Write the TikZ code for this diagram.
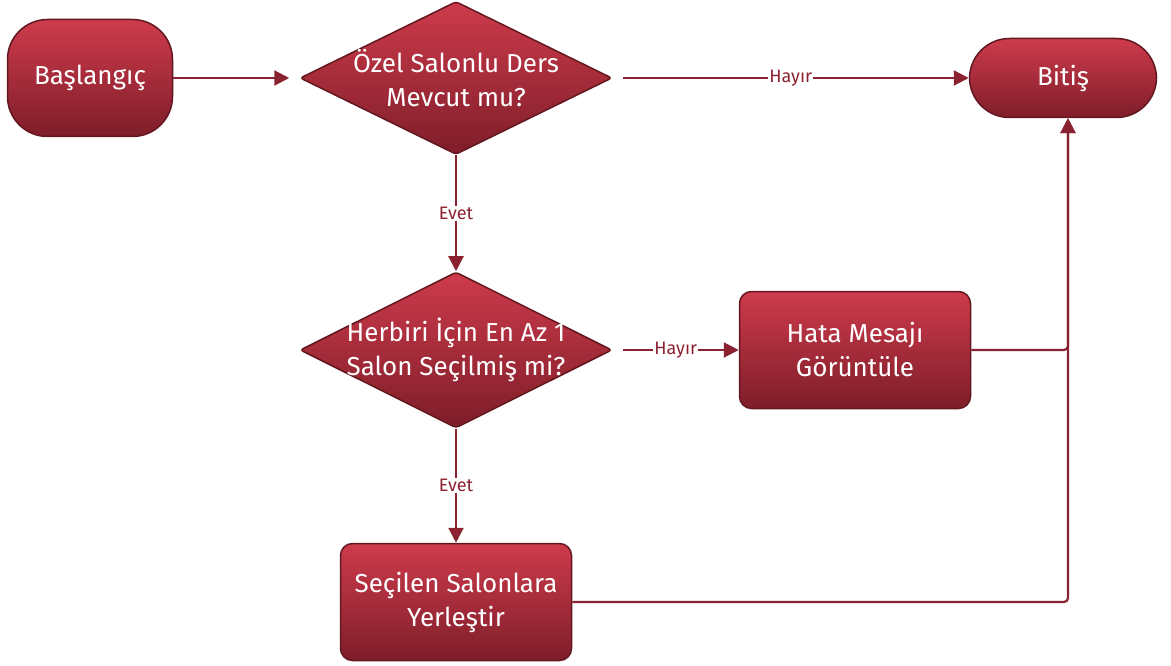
\documentclass[tikz,border=0pt]{standalone}
\usepackage{fontspec}
\setmainfont{Fira Sans}
\usetikzlibrary{arrows.meta,positioning,shapes.geometric,calc}
\definecolor{boxtop}{HTML}{CE3B4C}
\definecolor{boxbot}{HTML}{7E1D29}
\definecolor{boxline}{HTML}{631720}
\definecolor{flowline}{HTML}{8A2231}
\tikzset{
	box/.style={draw=boxline, line width=1.5pt, top color=boxtop, bottom color=boxbot,
		text=white, align=center, font=\fontsize{26}{34}\selectfont, inner sep=0pt},
	terminal/.style={box, rounded corners=40pt},
	process/.style={box, rounded corners=12pt},
	decision/.style={box, diamond, rounded corners=3pt},
	decisiontext/.style={text=white, align=center, font=\fontsize{26}{34}\selectfont},
	flow/.style={draw=flowline, line width=2.2pt, -{Triangle[length=15pt,width=15pt]}},
	flowlabel/.style={fill=white, text=flowline, inner sep=1pt, font=\fontsize{18}{20}\selectfont}
}
\begin{document}
\begin{tikzpicture}[x=1pt,y=-1pt]
	\useasboundingbox (0,0) rectangle (1171,666);
	
	\node[terminal, minimum width=165pt, minimum height=117pt]	(baslangic)	at (90,78)		{Başlangıç};
	\node[decision, minimum width=312pt, minimum height=153pt,
		label={[decisiontext]center:Özel Salonlu Ders\\Mevcut mu?}]	(ozel)		at (456,78)		{};
	\node[terminal, minimum width=187pt, minimum height=79pt]	(bitis)		at (1063,78)	{Bitiş};
	
	\node[decision, minimum width=312pt, minimum height=156pt,
		label={[decisiontext]center:Herbiri İçin En Az 1\\Salon Seçilmiş mi?}]	(herbiri)	at (456,350)	{};
	\node[process, minimum width=231pt, minimum height=117pt]	(hata)		at (855,350)	{Hata Mesajı\\Görüntüle};
	\node[process, minimum width=231pt, minimum height=117pt]	(secilen)	at (456,602)	{Seçilen Salonlara\\Yerleştir};
	
	\coordinate (giris) at ($(bitis.south)+(5,0)$);
	
	\draw[flow, shorten >=10pt] (baslangic) -- (ozel);
	\draw[flow, shorten <=10pt] (ozel) -- node[flowlabel] {Hayır} (bitis);
	\draw[flow] (ozel) -- node[flowlabel] {Evet} (herbiri);
	\draw[flow, shorten <=10pt] (herbiri) -- node[flowlabel] {Hayır} (hata);
	\draw[flow] (herbiri) -- node[flowlabel] {Evet} (secilen);
	\draw[flow, rounded corners=4pt] (hata.east) -| (giris);
	\draw[flow, rounded corners=4pt] (secilen.east) -| (giris);
\end{tikzpicture}
\end{document}
